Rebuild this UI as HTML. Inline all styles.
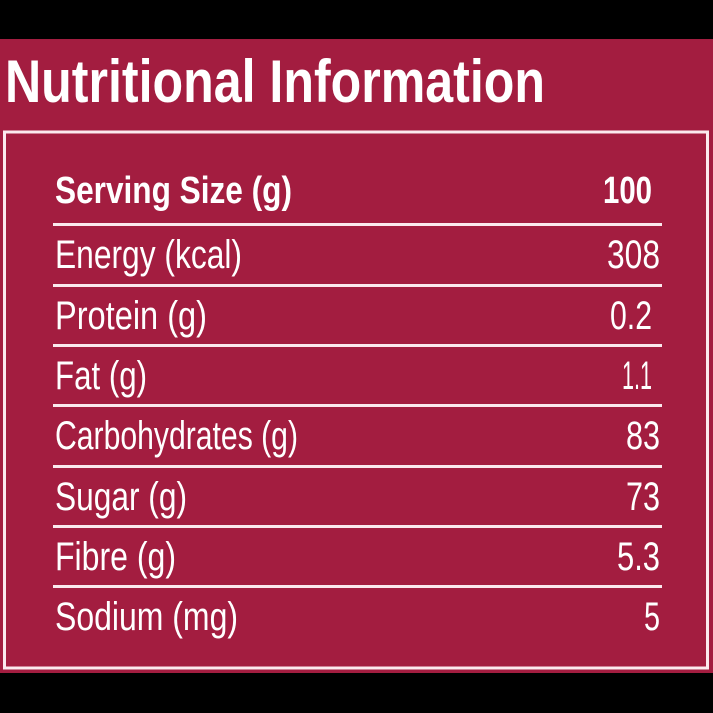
<!DOCTYPE html>
<html><head><meta charset="utf-8"><style>
html,body{margin:0;padding:0;background:#000;}
svg{display:block}
text{font-family:"Liberation Sans",sans-serif;fill:#fff}
</style></head><body>
<svg width="713" height="713" viewBox="0 0 713 713">
<rect x="0" y="0" width="713" height="713" fill="#000"/>
<rect x="0" y="39" width="713" height="634" fill="#a31d40"/>
<text x="5" y="102" font-size="60" font-weight="bold" textLength="540" lengthAdjust="spacingAndGlyphs">Nutritional Information</text>
<rect x="4.5" y="132" width="703" height="536" fill="none" stroke="#fbe9ee" stroke-width="3"/>
<g id="rows">
<text x="55" y="203" font-size="38" font-weight="bold" textLength="237" lengthAdjust="spacingAndGlyphs">Serving Size (g)</text>
<text x="652" y="203" font-size="38" font-weight="bold" text-anchor="end" textLength="49" lengthAdjust="spacingAndGlyphs">100</text>
<rect x="53" y="223" width="609" height="3" fill="#fbe9ee"/>
<text x="55" y="268" font-size="40" textLength="187" lengthAdjust="spacingAndGlyphs">Energy (kcal)</text>
<text x="660" y="268" font-size="40" text-anchor="end" textLength="53" lengthAdjust="spacingAndGlyphs">308</text>
<rect x="53" y="284" width="609" height="3" fill="#fbe9ee"/>
<text x="55" y="329" font-size="40" textLength="152" lengthAdjust="spacingAndGlyphs">Protein (g)</text>
<text x="652" y="329" font-size="40" text-anchor="end" textLength="42" lengthAdjust="spacingAndGlyphs">0.2</text>
<rect x="53" y="344" width="609" height="3" fill="#fbe9ee"/>
<text x="55" y="389" font-size="40" textLength="92" lengthAdjust="spacingAndGlyphs">Fat (g)</text>
<text x="652" y="389" font-size="40" text-anchor="end" textLength="30" lengthAdjust="spacingAndGlyphs">1.1</text>
<rect x="53" y="404" width="609" height="3" fill="#fbe9ee"/>
<text x="55" y="449" font-size="40" textLength="243" lengthAdjust="spacingAndGlyphs">Carbohydrates (g)</text>
<text x="660" y="449" font-size="40" text-anchor="end" textLength="34" lengthAdjust="spacingAndGlyphs">83</text>
<rect x="53" y="465" width="609" height="3" fill="#fbe9ee"/>
<text x="55" y="510" font-size="40" textLength="132" lengthAdjust="spacingAndGlyphs">Sugar (g)</text>
<text x="660" y="510" font-size="40" text-anchor="end" textLength="34" lengthAdjust="spacingAndGlyphs">73</text>
<rect x="53" y="525" width="609" height="3" fill="#fbe9ee"/>
<text x="55" y="570" font-size="40" textLength="121" lengthAdjust="spacingAndGlyphs">Fibre (g)</text>
<text x="660" y="570" font-size="40" text-anchor="end" textLength="43" lengthAdjust="spacingAndGlyphs">5.3</text>
<rect x="53" y="585" width="609" height="3" fill="#fbe9ee"/>
<text x="55" y="630" font-size="40" textLength="183" lengthAdjust="spacingAndGlyphs">Sodium (mg)</text>
<text x="660" y="630" font-size="40" text-anchor="end" textLength="16" lengthAdjust="spacingAndGlyphs">5</text>
</g>
</svg>
</body></html>
